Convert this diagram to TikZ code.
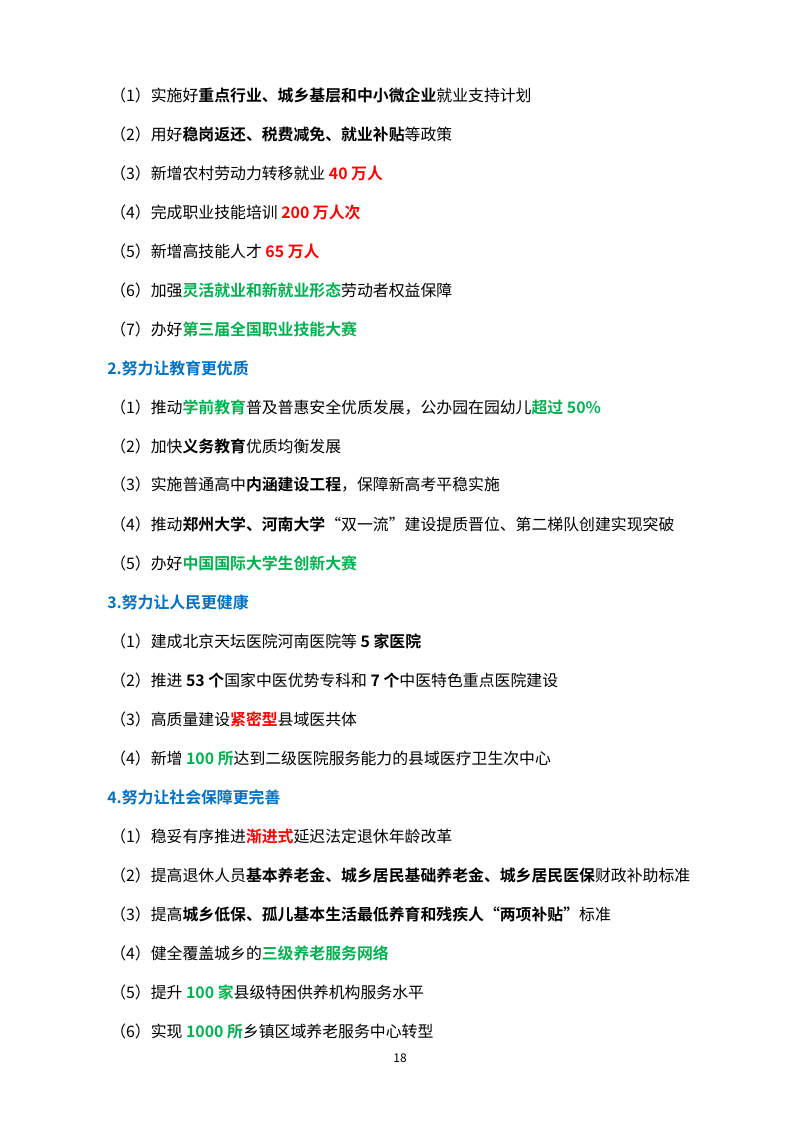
\documentclass[tikz,border=0pt]{standalone}
\usepackage{fontspec}
\newfontfamily\cjk{Noto Sans CJK SC}[BoldFont={* Bold}]
\definecolor{cred}{HTML}{FF0000}
\definecolor{cgreen}{HTML}{00B050}
\definecolor{cblue}{HTML}{0070C0}
\newcommand\Bx[1]{\textbf{#1}}
\newcommand\Rx[1]{\textbf{\color{cred}#1}}
\newcommand\Gx[1]{\textbf{\color{cgreen}#1}}
\begin{document}
\begin{tikzpicture}[x=0.75pt,y=-0.75pt,
  it/.style={anchor=west,inner sep=0pt,font=\cjk\fontsize{11.9pt}{14pt}\selectfont},
  hd/.style={anchor=west,inner sep=0pt,font=\cjk\bfseries\fontsize{11.9pt}{14pt}\selectfont,text=cblue}]
\useasboundingbox (0,0) rectangle (800,1132);
\node[it] (l1) at (110,95) {（1）实施好\Bx{重点行业、城乡基层和中小微企业}就业支持计划};
\node[it] (l2) at (110,134) {（2）用好\Bx{稳岗返还、税费减免、就业补贴}等政策};
\node[it] (l3) at (110,173) {（3）新增农村劳动力转移就业 \Rx{40 万人}};
\node[it] (l4) at (110,212) {（4）完成职业技能培训 \Rx{200 万人次}};
\node[it] (l5) at (110,251) {（5）新增高技能人才 \Rx{65 万人}};
\node[it] (l6) at (110,290) {（6）加强\Gx{灵活就业和新就业形态}劳动者权益保障};
\node[it] (l7) at (110,329) {（7）办好\Gx{第三届全国职业技能大赛}};
\node[hd] (h2) at (107,368) {2.努力让教育更优质};
\node[it] (m1) at (110,407) {（1）推动\Gx{学前教育}普及普惠安全优质发展，公办园在园幼儿\Gx{超过 50\%}};
\node[it] (m2) at (110,446) {（2）加快\Bx{义务教育}优质均衡发展};
\node[it] (m3) at (110,485) {（3）实施普通高中\Bx{内涵建设工程}，保障新高考平稳实施};
\node[it] (m4) at (110,524) {（4）推动\Bx{郑州大学、河南大学}“双一流”建设提质晋位、第二梯队创建实现突破};
\node[it] (m5) at (110,563) {（5）办好\Gx{中国国际大学生创新大赛}};
\node[hd] (h3) at (107,602) {3.努力让人民更健康};
\node[it] (n1) at (110,641) {（1）建成北京天坛医院河南医院等 \Bx{5 家医院}};
\node[it] (n2) at (110,680) {（2）推进 \Bx{53 个}国家中医优势专科和 \Bx{7 个}中医特色重点医院建设};
\node[it] (n3) at (110,719) {（3）高质量建设\Rx{紧密型}县域医共体};
\node[it] (n4) at (110,758) {（4）新增 \Gx{100 所}达到二级医院服务能力的县域医疗卫生次中心};
\node[hd] (h4) at (107,797) {4.努力让社会保障更完善};
\node[it] (p1) at (110,836) {（1）稳妥有序推进\Rx{渐进式}延迟法定退休年龄改革};
\node[it] (p2) at (110,875) {（2）提高退休人员\Bx{基本养老金、城乡居民基础养老金、城乡居民医保}财政补助标准};
\node[it] (p3) at (110,914) {（3）提高\Bx{城乡低保、孤儿基本生活最低养育和残疾人“两项补贴”}标准};
\node[it] (p4) at (110,953) {（4）健全覆盖城乡的\Gx{三级养老服务网络}};
\node[it] (p5) at (110,992) {（5）提升 \Gx{100 家}县级特困供养机构服务水平};
\node[it] (p6) at (110,1031) {（6）实现 \Gx{1000 所}乡镇区域养老服务中心转型};
\node[inner sep=0pt,font=\cjk\fontsize{9pt}{11pt}\selectfont] (pg) at (400,1058) {18};
\end{tikzpicture}
\end{document}
